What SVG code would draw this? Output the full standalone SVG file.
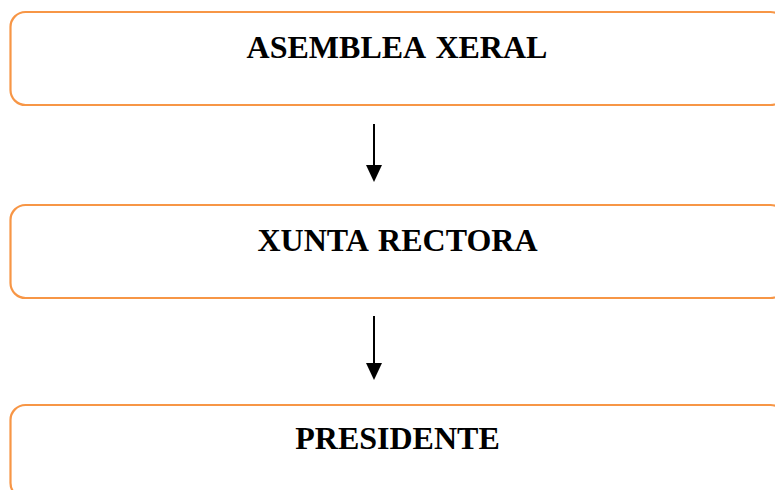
<svg xmlns="http://www.w3.org/2000/svg" width="775" height="490" viewBox="0 0 775 490">
<style>
.box{fill:#ffffff;stroke:#F79646;stroke-width:2.2}
.lbl{font-family:"Liberation Serif","Times New Roman",serif;font-weight:bold;font-size:32px;fill:#000000;text-anchor:middle;word-spacing:3px}
.conn{stroke:#000000;stroke-width:2;fill:none}
.head{fill:#000000}
</style>
<rect width="775" height="490" fill="#ffffff"/>
<g id="asemblea">
<rect class="box" x="10.5" y="12" width="775" height="93" rx="15" ry="15"/>
<text class="lbl" x="397" y="57.5">ASEMBLEA XERAL</text>
</g>
<g id="xunta">
<rect class="box" x="10.5" y="205" width="775" height="93" rx="15" ry="15"/>
<text class="lbl" x="397.5" y="251">XUNTA RECTORA</text>
</g>
<g id="presidente">
<rect class="box" x="10.5" y="405" width="775" height="93" rx="15" ry="15"/>
<text class="lbl" x="397.5" y="449">PRESIDENTE</text>
</g>
<g id="connectors">
<line class="conn" x1="374" y1="124" x2="374" y2="166"/>
<path class="head" d="M366,165 L382,165 L374,182 Z"/>
<line class="conn" x1="374" y1="316" x2="374" y2="364"/>
<path class="head" d="M366,363 L382,363 L374,380 Z"/>
</g>
</svg>
